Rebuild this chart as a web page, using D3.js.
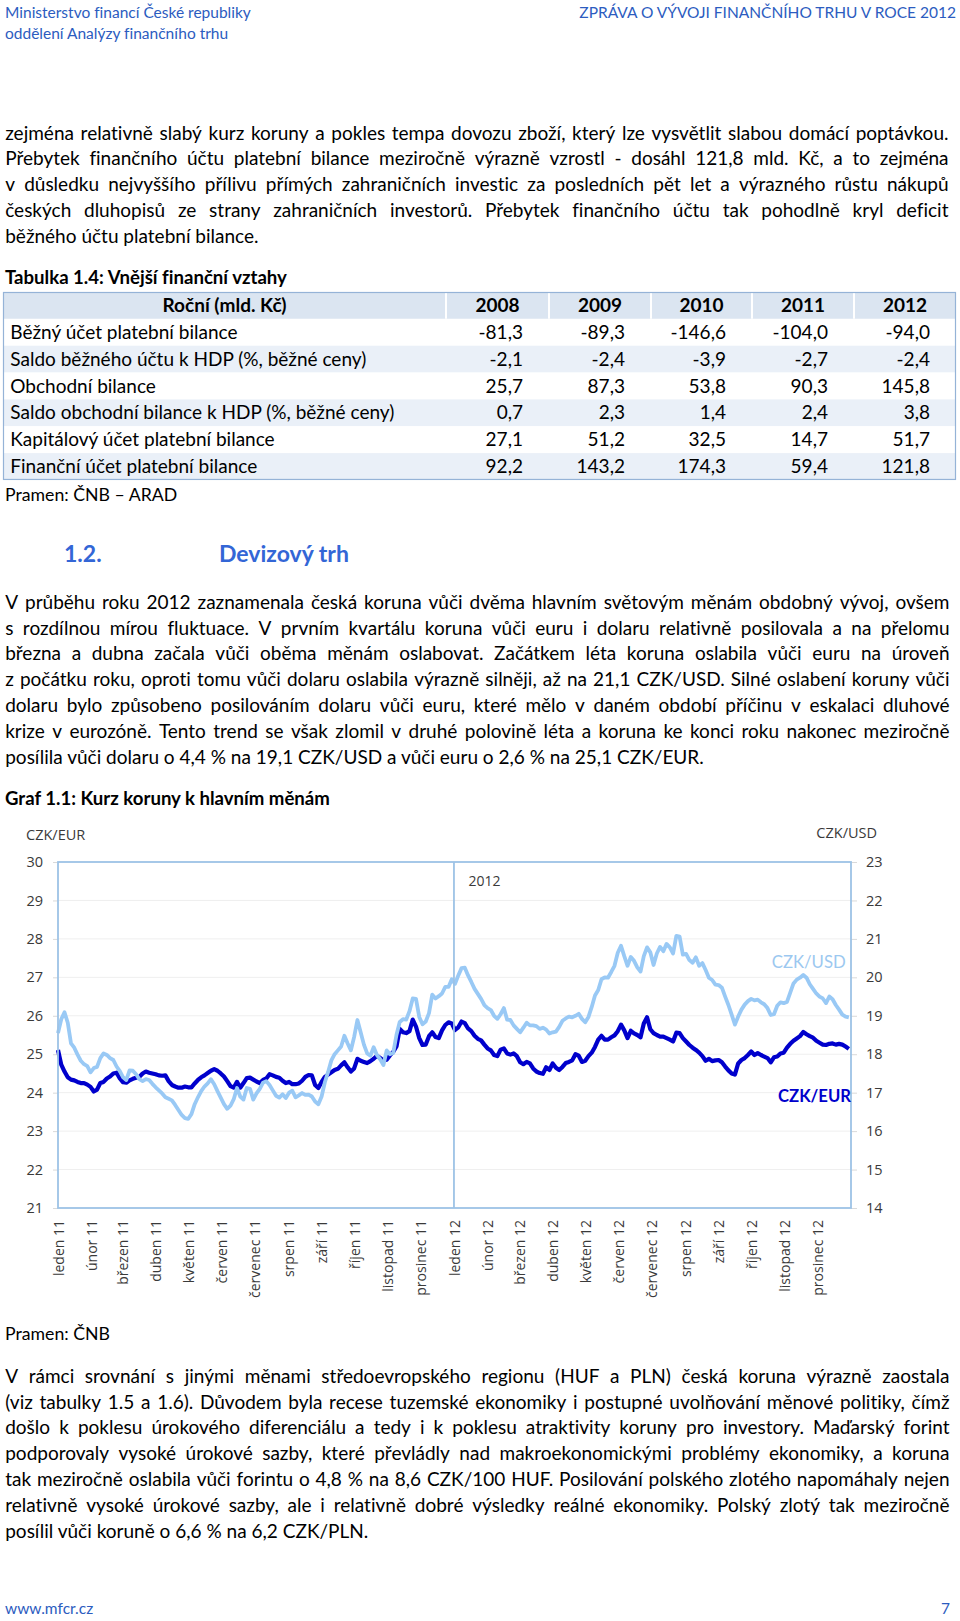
<!DOCTYPE html>
<html><head><meta charset="utf-8">
<script src="https://cdn.jsdelivr.net/npm/d3@7"></script>
<style>html,body{margin:0;padding:0;background:#fff}svg{display:block}text{font-variant-ligatures:none;font-feature-settings:"liga" 0,"clig" 0}</style>
</head><body>
<script>
// ---------------- DATA ----------------
const headerLeft = ["Ministerstvo financí České republiky", "oddělení Analýzy finančního trhu"];
const headerRight = "ZPRÁVA O VÝVOJI FINANČNÍHO TRHU V ROCE 2012";

const para1 = [
 "zejména relativně slabý kurz koruny a pokles tempa dovozu zboží, který lze vysvětlit slabou domácí poptávkou.",
 "Přebytek finančního účtu platební bilance meziročně výrazně vzrostl - dosáhl 121,8 mld. Kč, a to zejména",
 "v důsledku nejvyššího přílivu přímých zahraničních investic za posledních pět let a výrazného růstu nákupů",
 "českých dluhopisů ze strany zahraničních investorů. Přebytek finančního účtu tak pohodlně kryl deficit",
 "běžného účtu platební bilance."
];
const tableTitle = "Tabulka 1.4: Vnější finanční vztahy";
const tableHead = "Roční (mld. Kč)";
const tableYears = ["2008", "2009", "2010", "2011", "2012"];
const tableRows = [
 "Běžný účet platební bilance",
 "Saldo běžného účtu k HDP (%, běžné ceny)",
 "Obchodní bilance",
 "Saldo obchodní bilance k HDP (%, běžné ceny)",
 "Kapitálový účet platební bilance",
 "Finanční účet platební bilance"
];
const tableValues = [
 [-81.3, -89.3, -146.6, -104.0, -94.0],
 [-2.1, -2.4, -3.9, -2.7, -2.4],
 [25.7, 87.3, 53.8, 90.3, 145.8],
 [0.7, 2.3, 1.4, 2.4, 3.8],
 [27.1, 51.2, 32.5, 14.7, 51.7],
 [92.2, 143.2, 174.3, 59.4, 121.8]
];
const tableSource = "Pramen: ČNB – ARAD";
const sectionNum = "1.2.";
const sectionTitle = "Devizový trh";
const para2 = [
 "V průběhu roku 2012 zaznamenala česká koruna vůči dvěma hlavním světovým měnám obdobný vývoj, ovšem",
 "s rozdílnou mírou fluktuace. V prvním kvartálu koruna vůči euru i dolaru relativně posilovala a na přelomu",
 "března a dubna začala vůči oběma měnám oslabovat. Začátkem léta koruna oslabila vůči euru na úroveň",
 "z počátku roku, oproti tomu vůči dolaru oslabila výrazně silněji, až na 21,1 CZK/USD. Silné oslabení koruny vůči",
 "dolaru bylo způsobeno posilováním dolaru vůči euru, které mělo v daném období příčinu v eskalaci dluhové",
 "krize v eurozóně. Tento trend se však zlomil v druhé polovině léta a koruna ke konci roku nakonec meziročně",
 "posílila vůči dolaru o 4,4 % na 19,1 CZK/USD a vůči euru o 2,6 % na 25,1 CZK/EUR."
];
const chartTitle = "Graf 1.1: Kurz koruny k hlavním měnám";
const chartSource = "Pramen: ČNB";
const para3 = [
 "V rámci srovnání s jinými měnami středoevropského regionu (HUF a PLN) česká koruna výrazně zaostala",
 "(viz tabulky 1.5 a 1.6). Důvodem byla recese tuzemské ekonomiky i postupné uvolňování měnové politiky, čímž",
 "došlo k poklesu úrokového diferenciálu a tedy i k poklesu atraktivity koruny pro investory. Maďarský forint",
 "podporovaly vysoké úrokové sazby, které převládly nad makroekonomickými problémy ekonomiky, a koruna",
 "tak meziročně oslabila vůči forintu o 4,8 % na 8,6 CZK/100 HUF. Posilování polského zlotého napomáhaly nejen",
 "relativně vysoké úrokové sazby, ale i relativně dobré výsledky reálné ekonomiky. Polský zlotý tak meziročně",
 "posílil vůči koruně o 6,6 % na 6,2 CZK/PLN."
];
const footerLeft = "www.mfcr.cz";
const footerRight = "7";

// chart
const monthLabels = ["leden 11","únor 11","březen 11","duben 11","květen 11","červen 11","červenec 11","srpen 11","září 11","říjen 11","listopad 11","prosinec 11",
 "leden 12","únor 12","březen 12","duben 12","květen 12","červen 12","červenec 12","srpen 12","září 12","říjen 12","listopad 12","prosinec 12"];
const eurTicks = [21,22,23,24,25,26,27,28,29,30];
const usdTicks = [14,15,16,17,18,19,20,21,22,23];
const yearMarker = "2012";
const seriesStart = "2011-01-01";
const sampleStepDays = 3;
const eurName = "CZK/EUR", usdName = "CZK/USD";
const eur = [
 25.11,24.73,24.55,24.40,24.34,24.32,24.28,24.25,24.25,24.21,
 24.15,24.03,24.08,24.25,24.28,24.37,24.42,24.50,24.52,24.37,
 24.27,24.26,24.32,24.36,24.39,24.41,24.50,24.55,24.52,24.50,
 24.48,24.45,24.44,24.45,24.30,24.20,24.16,24.13,24.13,24.16,
 24.14,24.14,24.24,24.33,24.40,24.45,24.51,24.57,24.61,24.57,
 24.50,24.42,24.30,24.17,24.13,24.28,24.13,24.25,24.38,24.39,
 24.34,24.29,24.25,24.33,24.37,24.48,24.45,24.41,24.39,24.31,
 24.25,24.28,24.22,24.22,24.24,24.31,24.41,24.46,24.45,24.20,
 24.12,24.28,24.41,24.47,24.53,24.59,24.62,24.71,24.79,24.66,
 24.55,24.63,24.88,24.83,24.80,24.77,24.82,24.88,24.96,24.90,
 24.84,24.86,24.97,25.06,25.20,25.66,25.57,25.55,25.60,25.90,
 25.72,25.42,25.24,25.25,25.47,25.57,25.45,25.42,25.62,25.76,
 25.83,25.80,25.63,25.70,25.85,25.81,25.67,25.60,25.48,25.40,
 25.36,25.25,25.15,25.10,24.98,24.95,25.12,25.15,25.02,24.99,
 25.02,24.95,24.79,24.74,24.80,24.76,24.63,24.55,24.51,24.49,
 24.66,24.59,24.76,24.65,24.59,24.67,24.77,24.80,24.84,25.00,
 24.96,24.80,24.83,24.95,25.04,25.19,25.38,25.48,25.38,25.38,
 25.44,25.49,25.60,25.77,25.62,25.42,25.61,25.54,25.50,25.44,
 25.80,25.96,25.65,25.55,25.50,25.46,25.46,25.42,25.38,25.33,
 25.56,25.55,25.42,25.33,25.24,25.17,25.11,25.04,24.95,24.83,
 24.88,24.82,24.84,24.85,24.79,24.68,24.58,24.50,24.47,24.76,
 24.85,24.90,24.98,25.07,24.98,25.03,24.98,24.94,24.90,24.79,
 24.92,24.94,25.02,25.04,25.17,25.27,25.35,25.41,25.47,25.58,
 25.52,25.47,25.43,25.35,25.30,25.25,25.24,25.27,25.28,25.25,
 25.27,25.25,25.20,25.14
];
const usd = [
 18.55,18.91,19.09,18.82,18.28,18.17,17.99,17.83,17.74,17.69,
 17.53,17.64,17.67,17.90,18.02,17.98,17.90,17.85,17.68,17.56,
 17.40,17.33,17.58,17.57,17.48,17.35,17.30,17.35,17.33,17.23,
 17.14,17.06,16.98,16.88,16.84,16.80,16.68,16.55,16.42,16.34,
 16.32,16.44,16.70,16.88,17.04,17.16,17.24,17.35,17.22,17.04,
 16.87,16.70,16.58,16.66,16.83,17.12,16.90,16.82,17.12,17.10,
 16.82,16.98,17.10,17.26,17.30,17.20,17.06,16.92,16.87,16.96,
 16.86,17.00,17.05,16.88,16.93,16.99,16.94,16.95,16.90,16.77,
 16.70,16.90,17.27,17.54,17.84,18.00,18.10,18.20,18.48,18.28,
 18.10,18.45,18.89,18.57,18.25,18.02,17.96,18.18,17.98,17.87,
 17.72,18.10,18.00,18.03,18.50,18.84,18.91,18.90,19.12,19.45,
 19.44,18.97,18.78,18.85,19.07,19.55,19.45,19.51,19.58,19.75,
 19.75,19.95,19.83,20.05,20.24,20.25,20.05,19.88,19.70,19.57,
 19.44,19.28,19.20,19.15,19.00,18.92,19.04,19.20,18.90,18.89,
 18.75,18.66,18.57,18.69,18.82,18.75,18.75,18.73,18.66,18.69,
 18.64,18.54,18.57,18.59,18.71,18.87,18.93,18.98,18.96,19.00,
 19.05,18.92,18.83,18.97,19.23,19.53,19.67,19.95,20.00,19.99,
 20.14,20.30,20.64,20.82,20.55,20.30,20.53,20.43,20.26,20.15,
 20.55,20.78,20.65,20.32,20.62,20.79,20.68,20.87,20.78,20.62,
 21.08,21.06,20.59,20.61,20.45,20.38,20.52,20.30,20.37,20.19,
 19.99,19.93,19.81,19.80,19.73,19.50,19.28,19.03,18.77,18.98,
 19.16,19.29,19.38,19.44,19.40,19.42,19.35,19.30,19.20,19.02,
 19.04,19.26,19.35,19.33,19.36,19.60,19.84,19.94,19.99,20.06,
 19.99,19.82,19.70,19.58,19.50,19.45,19.33,19.50,19.43,19.28,
 19.16,19.03,18.98,18.96
];

// ---------------- LAYOUT ----------------
const W = 960, H = 1621;
const BODY = "Lato, 'Noto Sans', sans-serif";
const CHARTF = "'Open Sans', 'Noto Sans', sans-serif";
const BLUE_HDR = "#2c5cc0";
const BLUE_HEAD = "#3366d6";
const svg = d3.select("body").append("svg").attr("width", W).attr("height", H)
  .attr("viewBox", `0 0 ${W} ${H}`);

const meas = svg.append("text").attr("x", -2000).attr("y", -2000);
function tw(str, family, size, weight) {
  meas.attr("font-family", family).attr("font-size", size).attr("font-weight", weight || "normal").text(str);
  return meas.node().getComputedTextLength();
}
function fit(str, family, weight, target) { return 20 * target / tw(str, family, 20, weight); }

const bodySize = d3.mean([
  fit(para1[4], BODY, "normal", 260.4),
  fit(para2[6], BODY, "normal", 690.3),
  fit(para3[6], BODY, "normal", 358.6)
]);
const hdrSize = fit(headerLeft[0], BODY, "normal", 246);
const titleSize = d3.mean([fit(tableTitle, BODY, "bold", 270), fit(chartTitle, BODY, "bold", 339)]);
const headSize = fit(sectionTitle, BODY, "bold", 130);

function txt(str, x, y, o) {
  o = o || {};
  return svg.append("text").attr("x", x).attr("y", y)
    .attr("font-family", o.family || BODY).attr("font-size", o.size || bodySize)
    .attr("font-weight", o.weight || "normal").attr("fill", o.fill || "#000")
    .attr("text-anchor", o.anchor || "start").text(str);
}
function paragraph(lines, x0, x1, yFirst, lh) {
  lines.forEach((ln, i) => {
    const y = yFirst + i * lh;
    const t = svg.append("text").attr("y", y).attr("font-family", BODY)
      .attr("font-size", bodySize).attr("fill", "#000");
    if (i === lines.length - 1) { t.attr("x", x0).text(ln); return; }
    const words = ln.split(" ");
    const ws = words.map(w => tw(w, BODY, bodySize));
    const gap = (x1 - x0 - d3.sum(ws)) / (words.length - 1);
    let x = x0;
    words.forEach((w, j) => { t.append("tspan").attr("x", x).text(w); x += ws[j] + gap; });
  });
}

// header
txt(headerLeft[0], 5, 17.5, {size: hdrSize, fill: BLUE_HDR});
txt(headerLeft[1], 5, 38.5, {size: hdrSize, fill: BLUE_HDR});
txt(headerRight, 956, 17.5, {size: hdrSize, fill: BLUE_HDR, anchor: "end"});

const LH = 25.83;
paragraph(para1, 5.2, 948.5, 139.5, LH);

// table
txt(tableTitle, 5, 284, {size: titleSize, weight: "bold"});
const colEdges = [3, 446, 549, 651, 752, 854, 956];
const tTop = 292, rowH = 26.85;
const fmt = v => d3.format(".1f")(v).replace(".", ",").replace("−", "-");
const tg = svg.append("g");
tg.append("rect").attr("x", colEdges[0]).attr("y", tTop).attr("width", colEdges[6] - colEdges[0])
  .attr("height", rowH).attr("fill", "#dbe5f1");
tg.selectAll("rect.row").data(tableRows).join("rect").attr("class", "row")
  .attr("x", colEdges[0]).attr("y", (d, i) => tTop + rowH * (i + 1))
  .attr("width", colEdges[6] - colEdges[0]).attr("height", rowH)
  .attr("fill", (d, i) => i % 2 ? "#eaf0f8" : "#ffffff");
tg.selectAll("line.sep").data(colEdges.slice(1, 6)).join("line").attr("class", "sep")
  .attr("x1", d => d).attr("x2", d => d).attr("y1", tTop).attr("y2", tTop + rowH)
  .attr("stroke", "#fff").attr("stroke-width", 2);
tg.append("rect").attr("x", colEdges[0] + 0.5).attr("y", tTop + 0.5)
  .attr("width", colEdges[6] - colEdges[0] - 1).attr("height", rowH * 7 - 1)
  .attr("fill", "none").attr("stroke", "#95b3d7").attr("stroke-width", 1.2);
const base = 6.6;
txt(tableHead, (colEdges[0] + colEdges[1]) / 2, tTop + rowH / 2 + base, {weight: "bold", anchor: "middle"});
tableYears.forEach((yr, j) => txt(yr, (colEdges[j + 1] + colEdges[j + 2]) / 2, tTop + rowH / 2 + base, {weight: "bold", anchor: "middle"}));
tableRows.forEach((r, i) => {
  const cy = tTop + rowH * (i + 1) + rowH / 2 + base;
  txt(r, 10.3, cy);
  tableValues[i].forEach((v, j) => txt(fmt(v), colEdges[j + 2] - 26, cy, {anchor: "end"}));
});
txt(tableSource, 5, 500.5, {size: bodySize * 0.93});

// section heading
txt(sectionNum, 64, 561.5, {size: headSize, weight: "bold", fill: BLUE_HEAD});
txt(sectionTitle, 219, 561.5, {size: headSize, weight: "bold", fill: BLUE_HEAD});

paragraph(para2, 5.2, 949.5, 608.8, LH);

txt(chartTitle, 5, 805, {size: titleSize, weight: "bold"});

// ---------------- CHART ----------------
const PL = 58, PR = 851, PT = 862, PB = 1208;
const start = d3.utcParse("%Y-%m-%d")(seriesStart);
const x = d3.scaleUtc().domain([start, d3.utcYear.offset(start, 2)]).range([PL, PR]);
const yL = d3.scaleLinear().domain([eurTicks[0], eurTicks[eurTicks.length - 1]]).range([PB, PT]);
const yR = d3.scaleLinear().domain([usdTicks[0], usdTicks[usdTicks.length - 1]]).range([PB, PT]);
const dates = eur.map((_, i) => d3.utcDay.offset(start, i * sampleStepDays));
const chart = svg.append("g");
const AX = "#3a3a3a";

chart.selectAll("line.grid").data(eurTicks.slice(1, -1)).join("line").attr("class", "grid")
  .attr("x1", PL).attr("x2", PR).attr("y1", d => yL(d)).attr("y2", d => yL(d))
  .attr("stroke", "#efefef").attr("stroke-width", 1);

const axL = chart.append("g").attr("transform", `translate(${PL},0)`)
  .call(d3.axisLeft(yL).tickValues(eurTicks).tickSize(5).tickPadding(10).tickFormat(d3.format("d")));
const axR = chart.append("g").attr("transform", `translate(${PR},0)`)
  .call(d3.axisRight(yR).tickValues(usdTicks).tickSize(6).tickPadding(9).tickFormat(d3.format("d")));
[axL, axR].forEach(a => {
  a.select(".domain").remove();
  a.selectAll("line").attr("stroke", "#d9d9d9");
  a.selectAll("text").attr("font-family", CHARTF).attr("font-size", 14.5).attr("fill", AX);
});

const months = d3.utcMonth.range(start, d3.utcYear.offset(start, 2));
const axB = chart.append("g").attr("transform", `translate(0,${PB})`)
  .call(d3.axisBottom(x).tickValues(months).tickSize(0).tickFormat((d, i) => monthLabels[i]));
axB.select(".domain").remove();
axB.selectAll("text").attr("font-family", CHARTF).attr("font-size", 14).attr("fill", AX)
  .attr("transform", "rotate(-90)").attr("text-anchor", "end")
  .attr("x", -12).attr("y", 0).attr("dy", "0.36em");

const lineEur = d3.line().x((d, i) => x(dates[i])).y(d => yL(d));
const lineUsd = d3.line().x((d, i) => x(dates[i])).y(d => yR(d));
chart.append("path").attr("d", lineEur(eur)).attr("fill", "none").attr("stroke", "#0000cc")
  .attr("stroke-width", 4.2).attr("stroke-linejoin", "round");
chart.append("path").attr("d", lineUsd(usd)).attr("fill", "none").attr("stroke", "#99c9f5")
  .attr("stroke-width", 3.8).attr("stroke-linejoin", "round");

// frame + year divider
chart.append("rect").attr("x", PL).attr("y", PT).attr("width", PR - PL).attr("height", PB - PT)
  .attr("fill", "none").attr("stroke", "#9dc3e6").attr("stroke-width", 1.8);
const y2012 = d3.utcYear.offset(start, 1);
chart.append("line").attr("x1", x(y2012)).attr("x2", x(y2012)).attr("y1", PT).attr("y2", PB)
  .attr("stroke", "#9dc3e6").attr("stroke-width", 1.8);

txt(eurName, 26, 840, {family: CHARTF, size: 14.5, fill: AX});
txt(usdName, 877, 838, {family: CHARTF, size: 14.5, fill: AX, anchor: "end"});
txt(yearMarker, x(y2012) + 14.5, 886, {family: CHARTF, size: 14, fill: AX});
const usdLblSize = fit(usdName, BODY, "normal", 74);
const eurLblSize = fit(eurName, BODY, "bold", 73);
txt(usdName, 845.7, 968, {size: usdLblSize, fill: "#9cc8f0", anchor: "end"});
txt(eurName, 851, 1102, {size: eurLblSize, weight: "bold", fill: "#0000cc", anchor: "end"});

txt(chartSource, 5, 1339.5, {size: bodySize * 0.93});
paragraph(para3, 5.2, 949.5, 1382.8, LH);

txt(footerLeft, 5, 1614, {size: hdrSize, fill: BLUE_HDR});
txt(footerRight, 950, 1614, {size: hdrSize, fill: BLUE_HDR, anchor: "end"});
meas.remove();
</script>
</body></html>
